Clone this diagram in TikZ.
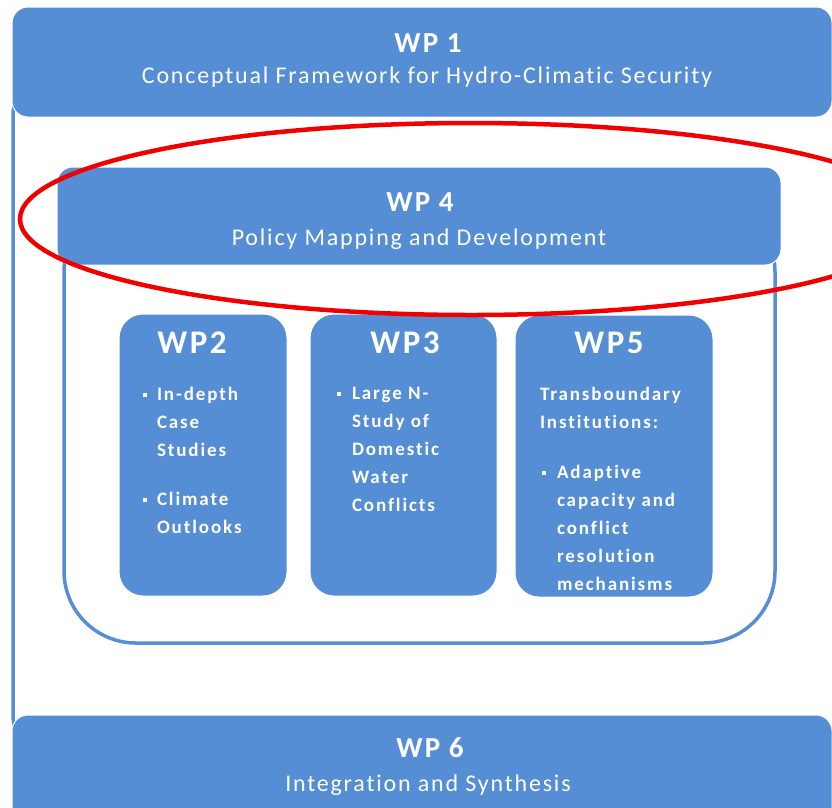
\documentclass[tikz,border=0pt]{standalone}
\usepackage{fontspec}
\setmainfont{Carlito}
\newfontfamily\barfont[LetterSpace=7.5,Ligatures=CommonOff]{Carlito}
\newfontfamily\colfont[LetterSpace=10,Ligatures=CommonOff]{Carlito}
\definecolor{wpblue}{RGB}{85,142,213}
\definecolor{markred}{RGB}{240,0,0}
\newcommand\sqbullet{\rule[0.35ex]{3.5pt}{3.5pt}}
\begin{document}
\begin{tikzpicture}[x=1pt, y=-1pt,
  bar/.style = {draw=white, line width=1pt, fill=wpblue,
    rounded corners=16pt},
  column/.style = {draw=white, line width=1pt, fill=wpblue,
    rounded corners=24pt},
  frame/.style = {draw=wpblue, line width=3.5pt},
  every node/.style = {text=white, inner sep=0pt, outer sep=0pt},
  wptitle/.style = {anchor=base, font=\barfont\fontsize{29}{34}\selectfont\bfseries},
  wpsub/.style = {anchor=base, font=\barfont\fontsize{24}{28}\selectfont},
  coltitle/.style = {anchor=base, font=\barfont\fontsize{33}{38}\selectfont\bfseries},
  coltext/.style = {anchor=base west, font=\colfont\fontsize{19}{28}\selectfont\bfseries}]
  \useasboundingbox (0,0) rectangle (832,807);
  \clip (0,0) rectangle (832,807);
  % frames behind the boxes
  \draw[frame, rounded corners=45pt] (13,70) rectangle (900,760);
  \draw[frame, rounded corners=72pt] (64,200) rectangle (775,643);
  % wide work packages
  \node[bar, minimum width=820pt, minimum height=110pt] (wp1) at (422,62) {};
  \node[bar, minimum width=724pt, minimum height=98pt] (wp4) at (419,216) {};
  \node[bar, minimum width=820pt, minimum height=110pt] (wp6) at (422,770) {};
  \node[wptitle] (wp1title) at (428,52) {WP 1};
  \node[wpsub] (wp1sub) at (427,83) {Conceptual Framework for Hydro-Climatic Security};
  \node[wptitle] (wp4title) at (420,211) {WP 4};
  \node[wpsub] (wp4sub) at (419,245) {Policy Mapping and Development};
  \node[wptitle] (wp6title) at (430,757) {WP 6};
  \node[wpsub] (wp6sub) at (428,791) {Integration and Synthesis};
  % column work packages
  \node[column, minimum width=168pt, minimum height=282pt] (wp2) at (203,455) {};
  \node[column, minimum width=187pt, minimum height=282pt] (wp3) at (403.5,455) {};
  \node[column, minimum width=198pt, minimum height=282pt] (wp5) at (614,456) {};
  \node[coltitle] (wp2title) at (192,353) {WP2};
  \node[coltitle] (wp3title) at (405,353) {WP3};
  \node[coltitle] (wp5title) at (609,353) {WP5};
  \node[coltext] (wp2list) at (143,400) {%
    \begin{tabular}[t]{@{}p{14pt}@{}l@{}}
      \sqbullet & In-depth\\
                & Case\\
                & Studies\\[21pt]
      \sqbullet & Climate\\
                & Outlooks
    \end{tabular}};
  \node[coltext] (wp3list) at (337,399) {%
    \begin{tabular}[t]{@{}p{15pt}@{}l@{}}
      \sqbullet & Large N-\\
                & Study of\\
                & Domestic\\
                & Water\\
                & Conflicts
    \end{tabular}};
  \node[coltext] (wp5list) at (540,400) {%
    \begin{tabular}[t]{@{}p{17pt}@{}l@{}}
      \multicolumn{2}{@{}l@{}}{Transboundary}\\
      \multicolumn{2}{@{}l@{}}{Institutions:}\\[22pt]
      \hspace{2pt}\sqbullet & Adaptive\\
                & capacity and\\
                & conflict\\
                & resolution\\
                & mechanisms
    \end{tabular}};
  % highlight
  \draw[markred, line width=4.5pt] (471,219) ellipse [x radius=451pt, y radius=96pt];
\end{tikzpicture}
\end{document}
